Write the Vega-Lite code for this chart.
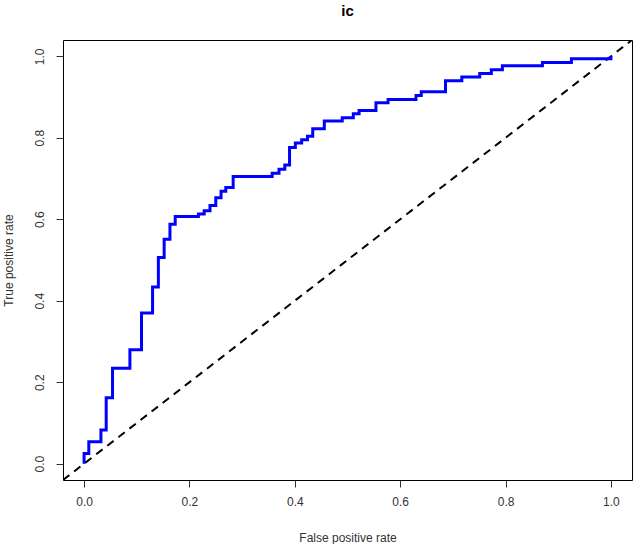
{
  "$schema": "https://vega.github.io/schema/vega-lite/v6.json",
  "width": 569,
  "height": 440,
  "autosize": {"type": "none"},
  "padding": {"left": 63, "top": 40, "right": 8, "bottom": 64},
  "background": "white",
  "title": {"text": "ic", "font": "Liberation Sans", "fontSize": 15, "fontWeight": "bold", "color": "black", "anchor": "middle", "offset": 21},
  "config": {
    "view": {"stroke": "black", "strokeWidth": 1},
    "axis": {
      "domain": false, "grid": false, "ticks": true, "tickColor": "#333", "tickSize": 7,
      "labelFont": "Liberation Sans", "labelFontSize": 12, "labelColor": "#333",
      "titleFont": "Liberation Sans", "titleFontSize": 12, "titleFontWeight": "normal", "titleColor": "#333"
    }
  },
  "datasets": {
    "roc": [
      {"i": 0, "fpr": 0.0, "tpr": 0.0},
      {"i": 1, "fpr": 0.0, "tpr": 0.025},
      {"i": 2, "fpr": 0.009, "tpr": 0.054},
      {"i": 3, "fpr": 0.032, "tpr": 0.083},
      {"i": 4, "fpr": 0.042, "tpr": 0.162},
      {"i": 5, "fpr": 0.054, "tpr": 0.234},
      {"i": 6, "fpr": 0.087, "tpr": 0.280},
      {"i": 7, "fpr": 0.109, "tpr": 0.370},
      {"i": 8, "fpr": 0.130, "tpr": 0.434},
      {"i": 9, "fpr": 0.141, "tpr": 0.506},
      {"i": 10, "fpr": 0.152, "tpr": 0.551},
      {"i": 11, "fpr": 0.163, "tpr": 0.588},
      {"i": 12, "fpr": 0.173, "tpr": 0.607},
      {"i": 13, "fpr": 0.217, "tpr": 0.613},
      {"i": 14, "fpr": 0.228, "tpr": 0.621},
      {"i": 15, "fpr": 0.239, "tpr": 0.634},
      {"i": 16, "fpr": 0.250, "tpr": 0.653},
      {"i": 17, "fpr": 0.260, "tpr": 0.669},
      {"i": 18, "fpr": 0.269, "tpr": 0.678},
      {"i": 19, "fpr": 0.283, "tpr": 0.705},
      {"i": 20, "fpr": 0.357, "tpr": 0.713},
      {"i": 21, "fpr": 0.370, "tpr": 0.723},
      {"i": 22, "fpr": 0.381, "tpr": 0.733},
      {"i": 23, "fpr": 0.390, "tpr": 0.776},
      {"i": 24, "fpr": 0.401, "tpr": 0.787},
      {"i": 25, "fpr": 0.413, "tpr": 0.795},
      {"i": 26, "fpr": 0.424, "tpr": 0.804},
      {"i": 27, "fpr": 0.434, "tpr": 0.822},
      {"i": 28, "fpr": 0.456, "tpr": 0.841},
      {"i": 29, "fpr": 0.490, "tpr": 0.849},
      {"i": 30, "fpr": 0.511, "tpr": 0.859},
      {"i": 31, "fpr": 0.522, "tpr": 0.867},
      {"i": 32, "fpr": 0.554, "tpr": 0.886},
      {"i": 33, "fpr": 0.577, "tpr": 0.894},
      {"i": 34, "fpr": 0.630, "tpr": 0.904},
      {"i": 35, "fpr": 0.640, "tpr": 0.913},
      {"i": 36, "fpr": 0.686, "tpr": 0.940},
      {"i": 37, "fpr": 0.717, "tpr": 0.949},
      {"i": 38, "fpr": 0.751, "tpr": 0.958},
      {"i": 39, "fpr": 0.773, "tpr": 0.967},
      {"i": 40, "fpr": 0.794, "tpr": 0.977},
      {"i": 41, "fpr": 0.870, "tpr": 0.985},
      {"i": 42, "fpr": 0.925, "tpr": 0.994},
      {"i": 43, "fpr": 1.0, "tpr": 1.0}
    ],
    "diag": [
      {"fpr": -0.04, "tpr": -0.04},
      {"fpr": 1.04, "tpr": 1.04}
    ]
  },
  "encoding": {
    "x": {"field": "fpr", "type": "quantitative",
      "scale": {"domain": [-0.04, 1.04], "nice": false, "zero": false},
      "axis": {"title": "False positive rate", "values": [0, 0.2, 0.4, 0.6, 0.8, 1.0], "format": ".1f", "labelPadding": 9, "titlePadding": 25}},
    "y": {"field": "tpr", "type": "quantitative",
      "scale": {"domain": [-0.04, 1.04], "nice": false, "zero": false},
      "axis": {"title": "True positive rate", "values": [0, 0.2, 0.4, 0.6, 0.8, 1.0], "format": ".1f", "labelAngle": -90, "labelAlign": "center", "labelBaseline": "bottom", "labelPadding": 10, "titlePadding": 18}}
  },
  "layer": [
    {
      "data": {"name": "diag"},
      "mark": {"type": "line", "color": "black", "strokeWidth": 2, "strokeDash": [8, 6], "clip": true}
    },
    {
      "data": {"name": "roc"},
      "mark": {"type": "line", "color": "#0000FF", "strokeWidth": 3, "interpolate": "step-after", "clip": true},
      "encoding": {"order": {"field": "i", "type": "quantitative"}}
    }
  ]
}
